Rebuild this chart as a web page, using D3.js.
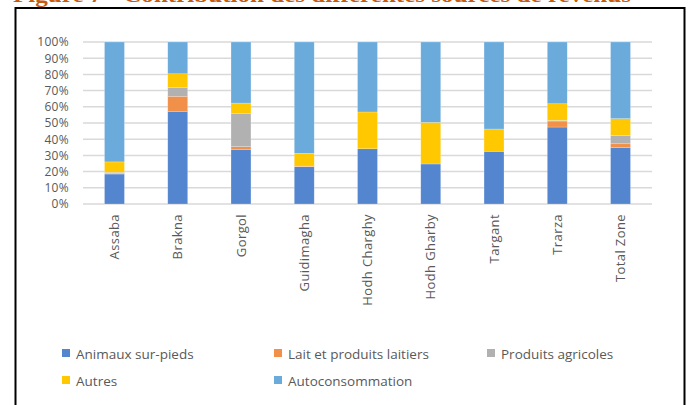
<!DOCTYPE html>
<html>
<head>
<meta charset="utf-8">
<script src="https://cdn.jsdelivr.net/npm/d3@7"></script>
<style>
  body { margin: 0; background: #fff; }
  svg { display: block; }
  text { font-family: "Open Sans", sans-serif; }
</style>
</head>
<body>
<div id="plotSect"></div>
<script>
// data (percent of total income)
let regions = ["Assaba", "Brakna", "Gorgol", "Guidimagha", "Hodh Charghy", "Hodh Gharby", "Targant", "Trarza", "Total Zone"];
let seriesNames = ["Animaux sur-pieds", "Lait et produits laitiers", "Produits agricoles", "Autres", "Autoconsommation"];
let animaux = [18.5, 57.2, 33.5, 23.0, 34.1, 24.7, 32.5, 47.5, 34.8];
let lait = [0.3, 9.3, 1.9, 0.4, 0, 0, 0, 3.7, 2.4];
let produits = [0.8, 5.5, 20.6, 0, 0, 0, 0, 0.4, 5.0];
let autres = [6.4, 8.4, 6.3, 7.9, 22.7, 25.7, 13.8, 10.3, 10.5];
let autoconso = [74.0, 19.6, 37.7, 68.7, 43.2, 49.6, 53.7, 38.1, 47.3];
let yTicks = [0, 10, 20, 30, 40, 50, 60, 70, 80, 90, 100];
let colors = ["#5485cf", "#f19149", "#b1b1b1", "#ffc800", "#6aabdc"];

let SVGwidth = 691,
    SVGheight = 405,
    margin = {top: 42, right: 39, bottom: 201, left: 83},
    width = SVGwidth - margin.left - margin.right,
    height = SVGheight - margin.top - margin.bottom;

let root = d3.select("#plotSect").append("svg")
    .attr("width", SVGwidth)
    .attr("height", SVGheight);

// figure caption, cut off at the top of the picture
root.append("text")
    .attr("x", 13)
    .attr("y", 2)
    .attr("textLength", 618)
    .attr("lengthAdjust", "spacingAndGlyphs")
    .style("font-family", "'Liberation Serif', serif")
    .style("font-weight", "bold")
    .style("font-size", "20px")
    .style("fill", "#c55a11")
    .text("Figure 7 - Contribution des différentes sources de revenus");

// chart frame
root.append("rect")
    .attr("x", 15.5)
    .attr("y", 8)
    .attr("width", 669)
    .attr("height", 405)
    .style("fill", "none")
    .style("stroke", "#000")
    .style("stroke-width", 2);

let svg = root.append("g")
    .attr("transform", "translate(" + margin.left + "," + margin.top + ")");

let table = regions.map(function(r, i) {
    return {
        region: r,
        "Animaux sur-pieds": animaux[i],
        "Lait et produits laitiers": lait[i],
        "Produits agricoles": produits[i],
        "Autres": autres[i],
        "Autoconsommation": autoconso[i]
    };
});

let stacked = d3.stack().keys(seriesNames)(table);

let xScale = d3.scaleBand().domain(regions).range([0, width]).paddingInner(0.685).paddingOuter(0.34);
let yScale = d3.scaleLinear().domain([0, 100]).range([height, 0]);

// gridlines
svg.selectAll(".grid")
    .data(yTicks)
    .enter().append("line")
    .attr("class", "grid")
    .attr("x1", 0)
    .attr("x2", width)
    .attr("y1", function(d) { return yScale(d); })
    .attr("y2", function(d) { return yScale(d); })
    .style("stroke", "#d9d9d9")
    .style("stroke-width", 1.5);

let yAxis = d3.axisLeft(yScale)
    .tickValues(yTicks)
    .tickSize(0)
    .tickPadding(14)
    .tickFormat(function(d) { return d + "%"; });

let yG = svg.append("g").attr("class", "yAxis").call(yAxis);
yG.select(".domain").remove();
yG.selectAll("text")
    .style("font-family", "'Open Sans', sans-serif")
    .style("font-size", "12px")
    .style("letter-spacing", "0.3px")
    .style("fill", "#595959");

// bars
let layers = svg.selectAll(".layer")
    .data(stacked)
    .enter().append("g")
    .attr("class", "layer")
    .style("fill", function(d, i) { return colors[i]; });

layers.selectAll("rect")
    .data(function(d) { return d; })
    .enter().append("rect")
    .attr("x", function(d) { return xScale(d.data.region); })
    .attr("width", xScale.bandwidth())
    .attr("y", function(d) { return yScale(d[1]); })
    .attr("height", function(d) { return yScale(d[0]) - yScale(d[1]); })
    .style("stroke", "#ffffff")
    .style("stroke-opacity", 0.35)
    .style("stroke-width", 0.6);

let xAxis = d3.axisBottom(xScale).tickSize(0).tickPadding(0);
let xG = svg.append("g")
    .attr("class", "xAxis")
    .attr("transform", "translate(0," + height + ")")
    .call(xAxis);
xG.select(".domain").remove();
xG.selectAll("text")
    .attr("transform", "rotate(-90)")
    .attr("x", -10)
    .attr("y", 0)
    .attr("dy", "0.35em")
    .style("text-anchor", "end")
    .style("font-family", "'Open Sans', sans-serif")
    .style("font-size", "13px")
    .style("letter-spacing", "0.4px")
    .style("fill", "#595959");

// legend
let legendPos = [[62, 354], [274, 354], [487, 354], [62, 381], [274, 381]];
let legend = root.selectAll(".legend")
    .data(seriesNames)
    .enter().append("g")
    .attr("class", "legend")
    .attr("transform", function(d, i) { return "translate(" + legendPos[i][0] + "," + legendPos[i][1] + ")"; });

legend.append("rect")
    .attr("x", 0)
    .attr("y", -5)
    .attr("width", 8)
    .attr("height", 8)
    .style("fill", function(d, i) { return colors[i]; });

legend.append("text")
    .attr("x", 14)
    .attr("y", 0)
    .attr("dy", "0.35em")
    .style("font-size", "13.5px")
    .style("fill", "#595959")
    .text(function(d) { return d; });
</script>
</body>
</html>
